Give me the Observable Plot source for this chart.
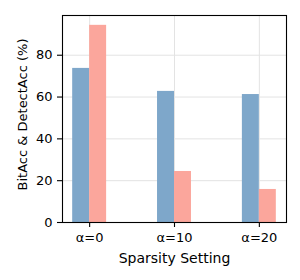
<!DOCTYPE html>
<html>
<head>
<meta charset="utf-8">
<script src="https://cdn.jsdelivr.net/npm/d3@7"></script>
<script src="https://cdn.jsdelivr.net/npm/@observablehq/plot@0.6"></script>
<style>
  html, body { margin: 0; padding: 0; background: white; }
</style>
</head>
<body>
<div id="chart"></div>
<script>
const categories = ["α=0", "α=10", "α=20"];
const bitAcc = [73.7, 62.7, 61.2];
const detectAcc = [94.3, 24.4, 15.8];
const series = ["BitAcc", "DetectAcc"];
const seriesColors = ["#7EA7CA", "#FBA69C"];
const yTicks = [0, 20, 40, 60, 80];
const xLabel = "Sparsity Setting";
const yLabel = "BitAcc & DetectAcc (%)";

const barWidth = 0.2;
const idx = categories.map((c, i) => i);
const rows = categories.flatMap((c, i) => [
  { i, s: series[0], v: bitAcc[i], x1: i - barWidth, x2: i },
  { i, s: series[1], v: detectAcc[i], x1: i, x2: i + barWidth }
]);

const chart = Plot.plot({
  width: 300,
  height: 280,
  marginLeft: 62,
  marginRight: 14,
  marginTop: 15,
  marginBottom: 58,
  x: { domain: [-0.32, 2.32] },
  y: { domain: [0, 99] },
  color: { domain: series, range: seriesColors },
  style: { fontFamily: "DejaVu Sans", fontSize: "13px", background: "white", color: "black" },
  marks: [
    Plot.gridY(yTicks, { stroke: "#e3e3e3", strokeOpacity: 1, strokeWidth: 1 }),
    Plot.gridX(idx, { stroke: "#e3e3e3", strokeOpacity: 1, strokeWidth: 1 }),
    Plot.rectY(rows, { x1: "x1", x2: "x2", y1: 0, y2: "v", fill: "s" }),
    Plot.axisY(yTicks, { tickSize: 5, tickPadding: 5, label: null, strokeWidth: 1.1 }),
    Plot.axisX(idx, { tickFormat: i => categories[i], tickSize: 5, tickPadding: 5, label: null, strokeWidth: 1.1 }),
    Plot.frame({ stroke: "black", strokeWidth: 1.1 }),
    Plot.text([yLabel], { frameAnchor: "left", textAnchor: "middle", lineAnchor: "middle", dx: -39.5, dy: -4.5, rotate: -90, fill: "black" }),
    Plot.text([xLabel], { frameAnchor: "bottom", textAnchor: "middle", lineAnchor: "middle", dy: 36, fontSize: 14, fill: "black" })
  ]
});
document.getElementById("chart").appendChild(chart);
</script>
</body>
</html>
